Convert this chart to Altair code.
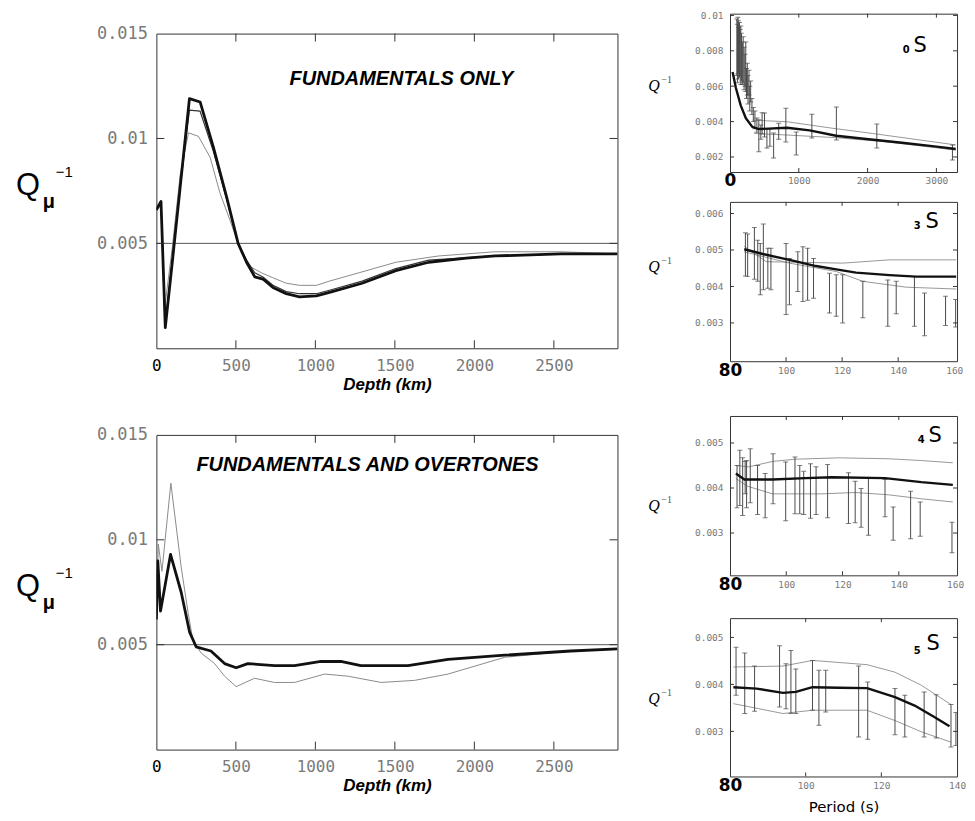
import altair as alt
import pandas as pd

# ---------------- data: depth profiles (left panels) ----------------
DEPTH_TICKS = [0, 500, 1000, 1500, 2000, 2500]
DEPTH_INNER = [500, 1000, 1500, 2000, 2500]
Q_TICKS = [0.005, 0.01, 0.015]
Q_INNER = [0.005, 0.01]

start_depth = [0, 2900]
start_q = [0.005, 0.005]

# Fundamentals only
fo_thick_depth = [0, 29, 56, 100, 150, 208, 275, 358, 442, 514, 567, 619, 670, 733, 817, 900,
                  1006, 1106, 1294, 1506, 1713, 1950, 2131, 2544, 2900]
fo_thick_q = [0.0066, 0.0070, 0.00098, 0.0041, 0.0077, 0.0119, 0.01174, 0.0096, 0.0072, 0.0050,
              0.0041, 0.0034, 0.0033, 0.0029, 0.0026, 0.00245, 0.0025, 0.0027, 0.0031, 0.0037,
              0.0041, 0.0043, 0.0044, 0.0045, 0.0045]
fo_mid_depth = [0, 29, 56, 100, 150, 208, 275, 358, 442, 514, 567, 619, 670, 733, 817, 900,
                1006, 1106, 1294, 1506, 1713, 2131, 2544, 2900]
fo_mid_q = [0.0066, 0.0069, 0.0012, 0.0042, 0.0077, 0.01135, 0.0113, 0.0094, 0.0071, 0.0050,
            0.0042, 0.0036, 0.0034, 0.0030, 0.0027, 0.0026, 0.0026, 0.0028, 0.0032, 0.0038,
            0.0042, 0.0044, 0.0045, 0.0045]
fo_thin_depth = [0, 29, 50, 100, 150, 202, 265, 338, 400, 463, 514, 588, 660, 733, 817, 900,
                 1006, 1088, 1275, 1506, 1775, 2131, 2544, 2900]
fo_thin_q = [0.0066, 0.0068, 0.0018, 0.0048, 0.0083, 0.01027, 0.0101, 0.0091, 0.0074, 0.0061,
             0.0050, 0.0039, 0.0036, 0.00336, 0.0031, 0.0030, 0.0030, 0.0032, 0.0036, 0.0041,
             0.0044, 0.0046, 0.0046, 0.0045]

# Fundamentals and overtones
ov_thick_depth = [0, 9, 26, 89, 156, 209, 250, 343, 429, 502, 575, 743, 869, 1035, 1160, 1286,
                  1412, 1582, 1834, 2191, 2607, 2900]
ov_thick_q = [0.0062, 0.0090, 0.0066, 0.0093, 0.0075, 0.0056, 0.0049, 0.0047, 0.0041, 0.0039,
              0.0041, 0.0040, 0.0040, 0.0042, 0.0042, 0.0040, 0.0040, 0.0040, 0.0043, 0.0045,
              0.0047, 0.0048]
ov_thin_depth = [0, 12, 35, 91, 156, 200, 230, 282, 366, 429, 502, 617, 743, 869, 1058, 1204,
                 1414, 1624, 1834, 2191, 2607, 2900]
ov_thin_q = [0.0060, 0.0098, 0.0085, 0.0127, 0.0087, 0.0065, 0.0052, 0.0046, 0.0041, 0.0035,
             0.0030, 0.0034, 0.0032, 0.0032, 0.0036, 0.0035, 0.0032, 0.0033, 0.0036, 0.0044,
             0.0047, 0.0048]

# ---------------- data: mode Q^-1 versus period (right panels) ----------------
# 0S
s0_bar_T = [3233, 2134, 1546, 1190, 963, 812, 708, 634, 580, 537, 502, 467, 448, 419, 391, 363,
            339, 319, 300, 287, 276, 262, 252, 240, 229, 218, 205, 192, 180, 168, 157, 147, 138,
            130, 122, 115, 108, 100]
s0_lo = [0.00183, 0.00251, 0.00296, 0.00307, 0.00211, 0.00285, 0.0030, 0.00194, 0.0026, 0.0025,
         0.00313, 0.0033, 0.0030, 0.0023, 0.0034, 0.0036, 0.0040, 0.0044, 0.0051, 0.0046, 0.0055,
         0.0050, 0.0055, 0.0053, 0.0057, 0.0060, 0.0058, 0.0062, 0.0061, 0.0063, 0.0061, 0.0066,
         0.0065, 0.0068, 0.0064, 0.0067, 0.0062, 0.0066]
s0_hi = [0.00268, 0.00386, 0.00482, 0.00442, 0.00341, 0.00476, 0.0039, 0.00335, 0.0036, 0.0036,
         0.00448, 0.0045, 0.0038, 0.0041, 0.0042, 0.0046, 0.0048, 0.0053, 0.0063, 0.0060, 0.0069,
         0.0066, 0.0073, 0.0070, 0.0085, 0.0078, 0.0082, 0.0088, 0.0085, 0.0090, 0.0094, 0.0092,
         0.0096, 0.0093, 0.0097, 0.0099, 0.0095, 0.0098]
s0_fit_T = [38, 86, 157, 229, 324, 419, 560, 829, 1157, 1543, 2014, 2500, 2971, 3281]
s0_fit_q = [0.0068, 0.0059, 0.0049, 0.0042, 0.0037, 0.00358, 0.0036, 0.00365, 0.0035, 0.0032,
            0.0030, 0.0028, 0.0026, 0.00245]
s0_up_T = [329, 829, 1495, 2067, 3281]
s0_up_q = [0.00408, 0.00399, 0.00362, 0.00333, 0.00268]
s0_low_T = [352, 829, 1543, 2257, 3281]
s0_low_q = [0.00333, 0.00324, 0.00309, 0.00286, 0.00239]

# 3S
s3_bar_T = [85.5, 86.3, 88.7, 89.9, 90.8, 91.9, 93.5, 94.6, 100, 101.2, 104.2, 106, 107.7, 109.8,
            115.5, 117.9, 120.2, 127.4, 136.3, 139.3, 145.8, 149.4, 156.9, 160.5]
s3_lo = [0.00429, 0.00427, 0.0042, 0.00414, 0.00377, 0.00391, 0.00395, 0.00391, 0.00323, 0.0035,
         0.00386, 0.00359, 0.00362, 0.00368, 0.00327, 0.00318, 0.003, 0.00314, 0.00291, 0.00325,
         0.00291, 0.00265, 0.00293, 0.00289]
s3_hi = [0.00547, 0.00544, 0.00562, 0.00527, 0.00518, 0.00571, 0.00505, 0.00505, 0.00518, 0.00477,
         0.00495, 0.00509, 0.00505, 0.00477, 0.00436, 0.00432, 0.00432, 0.00414, 0.00418, 0.00414,
         0.00427, 0.00382, 0.00373, 0.00364]
s3_fit_T = [85.1, 91.7, 101.2, 110.7, 117.9, 125, 136.9, 146.4, 160.7]
s3_fit_q = [0.00502, 0.00489, 0.00473, 0.00456, 0.00447, 0.00438, 0.00431, 0.00427, 0.00427]
s3_up_T = [85.1, 92.9, 120.2, 136.9, 160.7]
s3_up_q = [0.0051, 0.00468, 0.00464, 0.00473, 0.00473]
s3_low_T = [85.1, 101.2, 117.9, 127.4, 142.9, 160.7]
s3_low_q = [0.00495, 0.00464, 0.00441, 0.00414, 0.00398, 0.00393]

# 4S
s4_bar_T = [82.5, 83.5, 84.5, 85.4, 85.9, 87.2, 89.8, 92.5, 95.3, 99.8, 103.1, 104.8, 106.2,
            108.6, 110.6, 114.7, 122.1, 124.5, 126.6, 129.2, 135.1, 138, 144.2, 147.6, 158.9]
s4_hi = [0.0045, 0.00484, 0.00467, 0.00459, 0.00461, 0.00487, 0.0045, 0.00432, 0.00476, 0.00458,
         0.00469, 0.0045, 0.00437, 0.00454, 0.00447, 0.00452, 0.00434, 0.00415, 0.00399, 0.00421,
         0.00419, 0.00358, 0.00393, 0.00369, 0.00324]
s4_lo = [0.00356, 0.00361, 0.00339, 0.00387, 0.00356, 0.00367, 0.00341, 0.00334, 0.00365, 0.00327,
         0.00343, 0.00343, 0.00341, 0.00333, 0.00341, 0.00334, 0.00321, 0.00323, 0.00313, 0.00295,
         0.00336, 0.00284, 0.00287, 0.00293, 0.00256]
s4_fit_T = [82.1, 85.1, 95.1, 106.8, 116.2, 135.1, 148, 159.2]
s4_fit_q = [0.00432, 0.00419, 0.00419, 0.00422, 0.00424, 0.00422, 0.00413, 0.00407]
s4_up_T = [82.1, 86.7, 95.1, 103.3, 118.6, 136.2, 148, 159.2]
s4_up_q = [0.0045, 0.00447, 0.00459, 0.00464, 0.00467, 0.00465, 0.00461, 0.00456]
s4_low_T = [82.1, 86.2, 95.1, 112.7, 124.5, 136.2, 148, 159.2]
s4_low_q = [0.00421, 0.00404, 0.00387, 0.00387, 0.0039, 0.00385, 0.00376, 0.00369]

# 5S
s5_bar_T = [81.6, 83.9, 86.5, 93.1, 94.8, 96.1, 97.4, 101.8, 103.5, 105.3, 114, 116.4, 123.6,
            126.2, 131.3, 134.5, 138.4, 139.7]
s5_hi = [0.00479, 0.00467, 0.00439, 0.00482, 0.00444, 0.00472, 0.00433, 0.00451, 0.0043, 0.0043,
         0.00439, 0.00405, 0.00391, 0.00377, 0.00384, 0.00378, 0.00357, 0.0034]
s5_lo = [0.00377, 0.00338, 0.00343, 0.00352, 0.00348, 0.00338, 0.00338, 0.00345, 0.00313, 0.00341,
         0.00288, 0.00283, 0.00293, 0.00288, 0.00288, 0.00286, 0.00267, 0.0027]
s5_fit_T = [80.9, 87, 94, 97.4, 101.8, 108.8, 116.2, 123.6, 128.8, 134.1, 138]
s5_fit_q = [0.00394, 0.00391, 0.00382, 0.00384, 0.00394, 0.00393, 0.00392, 0.00373, 0.00355,
            0.0033, 0.00311]
s5_up_T = [80.9, 94, 101.8, 116.2, 123.6, 130.6, 138.4]
s5_up_q = [0.00437, 0.00439, 0.00451, 0.00442, 0.00426, 0.00398, 0.00357]
s5_low_T = [80.9, 94, 101.8, 116.2, 123.6, 130.6, 138.4]
s5_low_q = [0.00359, 0.00338, 0.00345, 0.00345, 0.00323, 0.00299, 0.00277]

# ---------------- styling helpers ----------------
TICK_FONT = "DejaVu Sans Mono"
GRAY_LABEL = "#7a7a7a"
FRAME = "#333333"
LEFT_W, LEFT_H = 463, 316
R_W = 228


def sc(domain):
    return alt.Scale(domain=domain, nice=False, zero=False)


def line(xv, yv, xs, ys, xaxis, yaxis, color, width):
    df = pd.DataFrame({"x": xv, "y": yv})
    return alt.Chart(df).mark_line(color=color, strokeWidth=width, clip=True,
                                   strokeJoin="round").encode(
        x=alt.X("x:Q", scale=xs, axis=xaxis),
        y=alt.Y("y:Q", scale=ys, axis=yaxis))


def inward_ticks(xvals, yvals, xs, ys, xaxis, yaxis, w, h, L):
    out = []
    dx = pd.DataFrame({"x": xvals})
    for y0, y1 in ((h, h - L), (0, L)):
        out.append(alt.Chart(dx).mark_rule(color=FRAME, strokeWidth=1).encode(
            x=alt.X("x:Q", scale=xs, axis=xaxis), y=alt.value(y0), y2=alt.value(y1)))
    dy = pd.DataFrame({"y": yvals})
    for x0, x1 in ((0, L), (w - L, w)):
        out.append(alt.Chart(dy).mark_rule(color=FRAME, strokeWidth=1).encode(
            y=alt.Y("y:Q", scale=ys, axis=yaxis), x=alt.value(x0), x2=alt.value(x1)))
    return out


def label(txt, x, y, size, font="Liberation Sans", weight="normal", style="normal",
          align="left", color="#000000"):
    return alt.Chart(pd.DataFrame({"t": [txt]})).mark_text(
        text=txt, align=align, baseline="middle", fontSize=size, font=font,
        fontWeight=weight, fontStyle=style, color=color).encode(
        x=alt.value(x), y=alt.value(y))


def first_cond(first, a, b):
    return {"condition": {"test": f"datum.value == {first}", "value": a}, "value": b}


# ---------------- left panels ----------------
def depth_panel(curves, heading, hx, hy):
    xs = sc([0, 2900])
    ys = sc([0, 0.015])
    xaxis = alt.Axis(values=DEPTH_TICKS, format="d", title="Depth (km)",
                     titleFont="Liberation Sans", titleFontSize=17, titleFontWeight="bold",
                     titleFontStyle="italic", titleColor="#000000", titlePadding=3,
                     labelFont=TICK_FONT, labelFontSize=16,
                     labelColor=first_cond(0, "#000000", GRAY_LABEL),
                     labelPadding=9, labelFlush=False, labelOverlap=False,
                     domain=False, ticks=False, grid=False)
    yaxis = alt.Axis(values=Q_TICKS, format=".3~f", title=None, labelFont=TICK_FONT,
                     labelFontSize=17, labelColor=GRAY_LABEL, labelPadding=9,
                     labelOverlap=False, domain=False, ticks=False, grid=False)
    layers = [line(start_depth, start_q, xs, ys, xaxis, yaxis, "#444444", 0.9)]
    for (xv, yv, col, wd) in curves:
        layers.append(line(xv, yv, xs, ys, xaxis, yaxis, col, wd))
    layers += inward_ticks(DEPTH_INNER, Q_INNER, xs, ys, xaxis, yaxis, LEFT_W, LEFT_H, 8)
    layers += [
        label(heading, hx, hy, 20, weight="bold", style="italic", align="center"),
        label("Q", -141, 153, 31),
        label("μ", -114, 169, 20, weight="bold"),
        label("−1", -101, 139, 15),
    ]
    return alt.layer(*layers).properties(width=LEFT_W, height=LEFT_H)


top_left = depth_panel(
    [(fo_thin_depth, fo_thin_q, "#8a8a8a", 1.0),
     (fo_mid_depth, fo_mid_q, "#333333", 1.2),
     (fo_thick_depth, fo_thick_q, "#111111", 2.8)],
    "FUNDAMENTALS ONLY", 246, 46)

bottom_left = depth_panel(
    [(ov_thin_depth, ov_thin_q, "#8a8a8a", 1.0),
     (ov_thick_depth, ov_thick_q, "#111111", 2.8)],
    "FUNDAMENTALS AND OVERTONES", 212, 30)


# ---------------- right panels ----------------
def period_panel(xdom, ydom, xticks, xinner, yticks, bars, fit, up, low, sub, h, q_y, s_xy,
                 sub_xy, xtitle=None):
    xs = sc(xdom)
    ys = sc(ydom)
    first = xticks[0]
    ax_kw = dict(values=xticks, format="d",
                 labelFont=first_cond(first, "DejaVu Sans", TICK_FONT),
                 labelFontSize=first_cond(first, 17, 9.5),
                 labelFontWeight=first_cond(first, "bold", "normal"),
                 labelColor=first_cond(first, "#000000", GRAY_LABEL),
                 labelBaseline="middle", labelPadding=9, labelFlush=False,
                 labelOverlap=False, domain=False, ticks=False, grid=False)
    if xtitle:
        xaxis = alt.Axis(title=xtitle, titleFont="DejaVu Sans", titleFontSize=15,
                         titleFontWeight="normal", titleColor="#000000", titlePadding=6,
                         **ax_kw)
    else:
        xaxis = alt.Axis(title=None, **ax_kw)
    yaxis = alt.Axis(values=yticks, format=".3~f", title=None, labelFont=TICK_FONT,
                     labelFontSize=9.5, labelColor=GRAY_LABEL, labelPadding=7,
                     labelOverlap=False, domain=False, ticks=False, grid=False)
    bT, blo, bhi = bars
    bdf = pd.DataFrame({"x": bT, "lo": blo, "hi": bhi})
    bar_col = "#4a4a4a"
    layers = [line(up[0], up[1], xs, ys, xaxis, yaxis, "#8c8c8c", 0.9),
              line(low[0], low[1], xs, ys, xaxis, yaxis, "#8c8c8c", 0.9),
              alt.Chart(bdf).mark_rule(color=bar_col, strokeWidth=1, clip=True).encode(
                  x=alt.X("x:Q", scale=xs, axis=xaxis),
                  y=alt.Y("lo:Q", scale=ys, axis=yaxis), y2="hi:Q")]
    for fld in ("lo", "hi"):
        layers.append(alt.Chart(bdf).mark_tick(color=bar_col, orient="horizontal", size=5,
                                               thickness=1, clip=True).encode(
            x=alt.X("x:Q", scale=xs, axis=xaxis),
            y=alt.Y(f"{fld}:Q", scale=ys, axis=yaxis)))
    layers.append(line(fit[0], fit[1], xs, ys, xaxis, yaxis, "#111111", 2.4))
    layers += inward_ticks(xinner, yticks, xs, ys, xaxis, yaxis, R_W, h, 4)
    layers += [
        label("S", s_xy[0], s_xy[1], 21, font="DejaVu Sans", align="center"),
        label(sub, sub_xy[0], sub_xy[1], 10, font="DejaVu Sans", weight="bold", align="center"),
        label("Q", -82, q_y, 16, font="Liberation Serif", style="italic"),
        label("−1", -69, q_y - 6, 10, font="Liberation Serif", color="#555555"),
    ]
    return alt.layer(*layers).properties(width=R_W, height=h)


r1 = period_panel([0, 3300], [0.00115, 0.0101], [0, 1000, 2000, 3000], [1000, 2000, 3000],
                  [0.002, 0.004, 0.006, 0.008, 0.01],
                  (s0_bar_T, s0_lo, s0_hi), (s0_fit_T, s0_fit_q), (s0_up_T, s0_up_q),
                  (s0_low_T, s0_low_q), "0", 159, 73, (191, 32), (177, 37))
r2 = period_panel([80, 161], [0.00195, 0.00632], [80, 100, 120, 140, 160], [100, 120, 140],
                  [0.003, 0.004, 0.005, 0.006],
                  (s3_bar_T, s3_lo, s3_hi), (s3_fit_T, s3_fit_q), (s3_up_T, s3_up_q),
                  (s3_low_T, s3_low_q), "3", 160, 65, (203, 20), (188, 24))
r3 = period_panel([80, 160.7], [0.00206, 0.0056], [80, 100, 120, 140, 160], [100, 120, 140],
                  [0.003, 0.004, 0.005],
                  (s4_bar_T, s4_lo, s4_hi), (s4_fit_T, s4_fit_q), (s4_up_T, s4_up_q),
                  (s4_low_T, s4_low_q), "4", 160, 90, (206, 20), (192, 24))
r4 = period_panel([80, 140], [0.00204, 0.00541], [80, 100, 120, 140], [100, 120],
                  [0.003, 0.004, 0.005],
                  (s5_bar_T, s5_lo, s5_hi), (s5_fit_T, s5_fit_q), (s5_up_T, s5_up_q),
                  (s5_low_T, s5_low_q), "5", 159, 81, (204, 26), (188, 33),
                  xtitle="Period (s)")

spacer = alt.Chart(pd.DataFrame({"a": [0]})).mark_point(opacity=0, size=1).encode(
    x=alt.value(0), y=alt.value(0)).properties(
    width=10, height=1, view=alt.ViewBackground(stroke="transparent"))

left_col = alt.vconcat(spacer, alt.vconcat(top_left, bottom_left, spacing=32), spacing=8)
right_col = alt.vconcat(alt.vconcat(r1, r2, spacing=11), alt.vconcat(r3, r4, spacing=24),
                        spacing=36)

chart = alt.hconcat(left_col, right_col, spacing=29).properties(
    padding={"left": 7, "top": 0, "right": 0, "bottom": 0},
    background="white",
).configure_view(stroke=FRAME, strokeWidth=1)

chart.save("out.html", embed_options={"renderer": "svg", "actions": False})
